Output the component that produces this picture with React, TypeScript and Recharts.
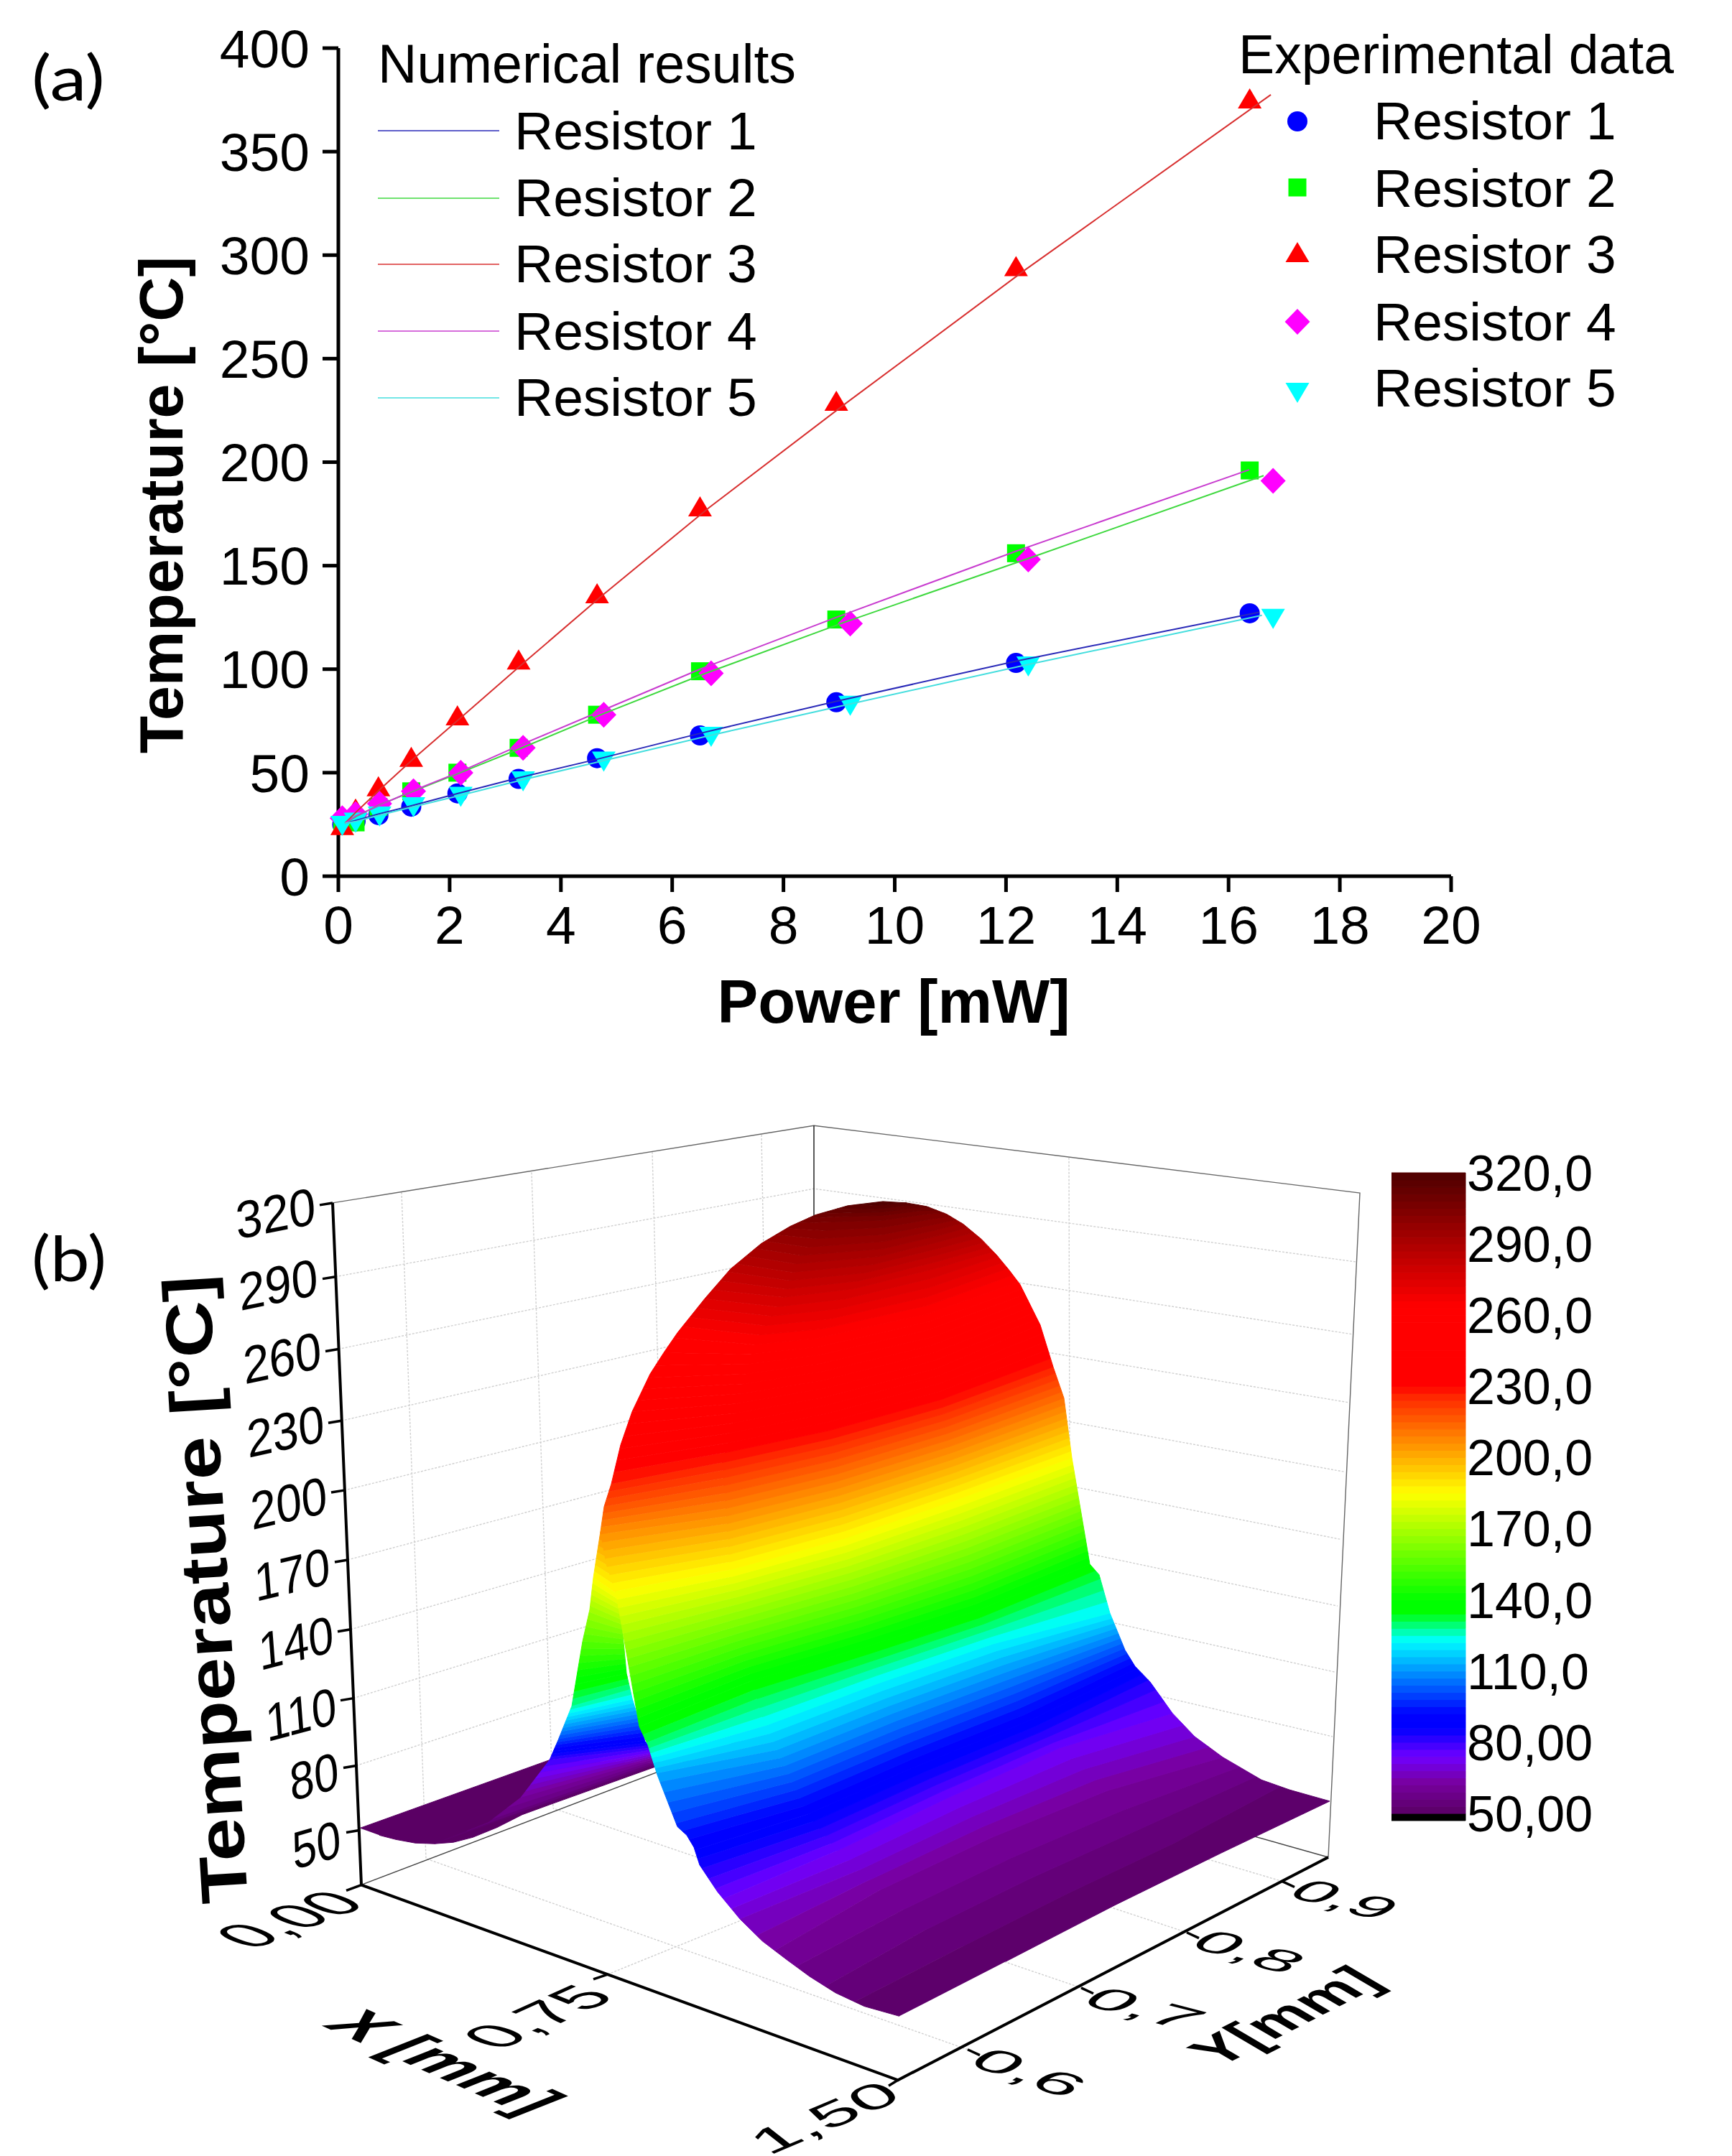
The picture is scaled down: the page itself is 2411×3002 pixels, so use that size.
import React from "react";
import { ScatterChart, Scatter, XAxis, YAxis, Label } from "recharts";

const sansFont = "'Liberation Sans', Arial, sans-serif";

// ---- panel (a): markers
const powerTicks = [0, 2, 4, 6, 8, 10, 12, 14, 16, 18, 20];
const tempTicks = [0, 50, 100, 150, 200, 250, 300, 350, 400];
const resistorNames = ["Resistor 1", "Resistor 2", "Resistor 3", "Resistor 4", "Resistor 5"];
const resistorColors = ["#0000ff", "#00ff00", "#ff0000", "#ff00ff", "#00ffff"];
const lineColors = ["#2a2ab8", "#3fd83f", "#d83030", "#c83ccf", "#45dede"];

const powerLow = [0.07, 0.31, 0.72, 1.31, 2.14, 3.24, 4.65, 6.5, 8.95, 12.18, 16.38];
const powerHigh = [0.07, 0.31, 0.74, 1.35, 2.2, 3.32, 4.77, 6.7, 9.2, 12.4, 16.8];
const expR1 = [25, 26.5, 29.5, 33.6, 40, 47, 57, 68, 84, 103, 127];
const expR2 = [25, 26, 33.5, 41, 50, 62, 78, 99, 124, 156, 196];
const expR3 = [24, 32, 42.8, 57, 77, 104, 136, 178, 229, 294, 375];
const expR4 = [28, 30, 35, 41, 50, 62, 78, 98, 122, 153, 191];
const expR5 = [25, 26.5, 29.5, 34, 39, 46.5, 56, 68, 83, 102, 125];

// ---- panel (a): numerical curves
const simPower1 = [0.12, 0.32, 0.72, 1.31, 2.15, 3.24, 4.65, 6.5, 8.95, 12.2, 16.55];
const simPower2 = [0.12, 0.33, 0.74, 1.34, 2.19, 3.3, 4.72, 6.6, 9.08, 12.35, 16.63];
const simPower3 = [0.12, 0.32, 0.75, 1.36, 2.22, 3.33, 4.76, 6.66, 9.15, 12.35, 16.76];
const simPower4 = [0.12, 0.31, 0.72, 1.31, 2.15, 3.24, 4.65, 6.5, 8.95, 12.18, 16.37];
const simPower5 = [0.12, 0.32, 0.74, 1.34, 2.19, 3.3, 4.72, 6.6, 9.08, 12.35, 16.6];
const simR1 = [25.6, 27, 30, 34, 40, 47.5, 56.5, 69, 84.5, 104, 127.5];
const simR2 = [25.6, 29, 34.5, 41, 50, 62, 78, 98, 122.5, 153, 193.5];
const simR3 = [25.6, 31, 42, 57, 77, 103, 136, 178, 229, 293, 377.5];
const simR4 = [25.6, 29, 34, 41, 50, 63, 79, 100, 125, 157, 196.3];
const simR5 = [25.6, 26.5, 29.5, 33.5, 39, 46.5, 55.5, 67.5, 82.5, 102, 126];

const zip = (xs: number[], ys: number[]) => xs.map((x, i) => ({ x, y: ys[i] }));

const expSeries = [
  zip(powerLow, expR1),
  zip(powerLow, expR2),
  zip(powerLow, expR3),
  zip(powerHigh, expR4),
  zip(powerHigh, expR5),
];
const simSeries = [
  zip(simPower1, simR1),
  zip(simPower2, simR2),
  zip(simPower3, simR3),
  zip(simPower4, simR4),
  zip(simPower5, simR5),
];

// ---- panel (b): projected frame, in the picture's own plane
const zLevels = [320, 290, 260, 230, 200, 170, 140, 110, 80, 50];
const wallLeft = [[463, 1677], [467, 1781], [471, 1883], [475, 1984], [479, 2082], [484, 2180], [488, 2278], [492, 2375], [496, 2470], [500, 2561]];
const wallBack = [[1133, 1568], [1133, 1657], [1133, 1745], [1133, 1833], [1133, 1920], [1133, 2005], [1133, 2090], [1133, 2175], [1133, 2258], [1133, 2340]];
const wallRight = [[1893, 1663], [1887, 1760], [1882, 1862], [1876, 1958], [1872, 2056], [1866, 2151], [1862, 2245], [1858, 2338], [1855, 2429], [1851, 2520]];
const cornerLeft = [503, 2638];
const cornerFront = [1250, 2913];
const cornerRight = [1849, 2599];
const cornerBack = [1133, 2395];

const wallUprights = [
  [[559, 1662], [593, 2601]],
  [[740, 1634], [770, 2530]],
  [[908, 1605], [930, 2463]],
  [[1060, 1581], [1075, 2420]],
  [[1488, 1613], [1490, 2500]],
];
const floorLines = [
  [[1347, 2870], [593, 2601]],
  [[1505, 2783], [770, 2530]],
  [[1652, 2705], [930, 2463]],
  [[1785, 2633], [1075, 2420]],
  [[846, 2764], [1490, 2500]],
];
const yAxisTicks = [[1347, 2870], [1505, 2783], [1652, 2705], [1785, 2633]];
const xAxisTicks = [[[503, 2638], [482, 2646]], [[846, 2764], [826, 2771]], [[1250, 2913], [1237, 2921]]];

// surface silhouettes: x, y, temperature at each point, coldest first
const mainLeft = [
  [1252, 2823, 50], [1203, 2809, 52], [1163, 2790, 55], [1127, 2767, 57.5], [1096, 2744, 60], [1061, 2717, 64],
  [1030, 2686, 68], [999, 2648, 76], [974, 2610, 84], [966, 2585, 90], [956, 2568, 93], [943, 2556, 97],
  [915, 2483, 112], [907, 2457, 123], [902, 2441, 130], [890, 2415, 137], [857, 2224, 185], [844, 2186, 195],
  [836, 2140, 207], [841, 2105, 218], [851, 2073, 227], [864, 2018, 237], [880, 1971, 245], [905, 1918, 255],
  [924, 1888, 260], [943, 1860, 264], [981, 1812, 275], [1017, 1770, 285], [1060, 1734, 295], [1100, 1710, 303],
  [1135, 1694, 310], [1180, 1681, 316], [1229, 1675, 320],
];
const mainRight = [
  [1851, 2520, 50], [1795, 2504, 52], [1756, 2490, 55], [1702, 2458, 62], [1663, 2429, 68], [1632, 2396, 74],
  [1601, 2352, 82], [1580, 2330, 90], [1566, 2307, 100], [1545, 2255, 122], [1530, 2201, 132], [1517, 2186, 137],
  [1492, 2036, 185], [1481, 1952, 212], [1466, 1908, 227], [1448, 1849, 242], [1420, 1792, 262], [1405, 1772, 268],
  [1387, 1750, 276], [1366, 1728, 286], [1341, 1707, 295], [1318, 1693, 304], [1290, 1682, 312], [1262, 1677, 317],
  [1229, 1675, 320],
];
// iso-temperature lines across the front flank
const contourLevels = [50, 55, 62, 74, 90, 123, 137, 185, 227, 264, 278, 292, 306, 320];
const contourPoints = [
  [1400, 2746, 1551, 2667, 1700, 2593],
  [1300, 2710, 1440, 2640, 1590, 2570],
  [1225, 2645, 1383, 2570, 1542, 2505],
  [1165, 2590, 1320, 2515, 1475, 2445],
  [1121, 2535, 1275, 2467, 1428, 2405],
  [1063, 2410, 1222, 2350, 1381, 2295],
  [1047, 2350, 1204, 2303, 1360, 2252],
  [1016, 2194, 1175, 2150, 1335, 2094],
  [1005, 2043, 1158, 2009, 1312, 1965],
  [1050, 1872, 1137, 1864, 1290, 1830],
  [1090, 1810, 1188, 1798, 1300, 1770],
  [1110, 1755, 1229, 1745, 1310, 1725],
  [1160, 1700, 1229, 1698, 1290, 1690],
  [1229, 1675, 1229, 1675, 1229, 1675],
];
// the far flank that shows behind the ridge, and the flat sheet in front of it
const patchLeft = [
  [605, 2580, 50], [680, 2550, 55], [725, 2515, 62], [765, 2462, 80], [777, 2434, 100], [796, 2386, 128],
  [811, 2295, 155], [821, 2250, 168], [826, 2205, 185], [836, 2140, 207],
];
const patchRight = [
  [920, 2468, 50], [910, 2450, 75], [898, 2436, 88], [880, 2375, 123], [872, 2340, 137], [862, 2230, 185], [845, 2140, 207],
];
const sheetOutline = [
  [501, 2558], [765, 2462], [920, 2468], [911, 2472], [765, 2525], [727, 2539], [692, 2557], [658, 2571], [631, 2578],
  [605, 2580], [578, 2579], [551, 2574], [528, 2568],
];

// colour map
const colorStopT = [50, 63, 74, 86, 92, 123, 135, 140, 185, 227, 230, 264, 320];
const colorStopR = [90, 120, 112, 0, 0, 0, 0, 0, 255, 255, 255, 255, 77];
const colorStopG = [0, 0, 0, 0, 0, 255, 255, 255, 255, 32, 0, 0, 0];
const colorStopB = [100, 160, 255, 255, 255, 255, 0, 0, 0, 0, 0, 0, 0];
const colorBarTicks = [50, 80, 110, 140, 170, 200, 230, 260, 290, 320];
const colorBarLabels = ["50,00", "80,00", "110,0", "140,0", "170,0", "200,0", "230,0", "260,0", "290,0", "320,0"];
const bandStep = 3;

const mix = (a: number, b: number, f: number) => a + (b - a) * f;

function colorAt(t: number) {
  let i = 0;
  while (i < colorStopT.length - 2 && t > colorStopT[i + 1]) i++;
  const f = Math.min(1, Math.max(0, (t - colorStopT[i]) / (colorStopT[i + 1] - colorStopT[i])));
  const r = Math.round(mix(colorStopR[i], colorStopR[i + 1], f));
  const g = Math.round(mix(colorStopG[i], colorStopG[i + 1], f));
  const b = Math.round(mix(colorStopB[i], colorStopB[i + 1], f));
  return `rgb(${r},${g},${b})`;
}

function edgeAt(edge: number[][], t: number) {
  let i = 0;
  while (i < edge.length - 2 && t > edge[i + 1][2]) i++;
  const f = Math.min(1, Math.max(0, (t - edge[i][2]) / (edge[i + 1][2] - edge[i][2])));
  return { x: mix(edge[i][0], edge[i + 1][0], f), y: mix(edge[i][1], edge[i + 1][1], f) };
}

function edgeSlice(edge: number[][], lo: number, hi: number) {
  const inner = edge.filter((p) => p[2] > lo && p[2] < hi).map((p) => ({ x: p[0], y: p[1] }));
  return [edgeAt(edge, lo), ...inner, edgeAt(edge, hi)];
}

function contourAt(t: number) {
  let i = 0;
  while (i < contourLevels.length - 2 && t > contourLevels[i + 1]) i++;
  const f = Math.min(1, Math.max(0, (t - contourLevels[i]) / (contourLevels[i + 1] - contourLevels[i])));
  const a = contourPoints[i];
  const b = contourPoints[i + 1];
  return [0, 2, 4].map((k) => ({ x: mix(a[k], b[k], f), y: mix(a[k + 1], b[k + 1], f) }));
}

type Pt = { x: number; y: number };

function bandsFor(left: number[][], right: number[][], tMax: number, across: (t: number) => Pt[]) {
  const out: { points: Pt[]; color: string }[] = [];
  for (let lo = 50; lo < tMax; lo += bandStep) {
    const hi = Math.min(lo + bandStep, tMax);
    out.push({
      points: [
        ...edgeSlice(left, lo, hi),
        ...across(hi),
        ...edgeSlice(right, lo, hi).reverse(),
        ...across(lo).reverse(),
      ],
      color: colorAt((lo + hi) / 2),
    });
  }
  return out;
}

const patchBands = bandsFor(patchLeft, patchRight, 207, () => []);
const mainBands = bandsFor(mainLeft, mainRight, 320, contourAt);

const toPts = (list: number[][]) => list.map((p) => ({ x: p[0], y: p[1] }));

// labels sit on the tilted planes of the box, so each one has its own matrix
type TiltedText = {
  text: string;
  x: number;
  y: number;
  m: number[];
  size?: number;
  bold?: boolean;
  end?: boolean;
  length?: number;
};

const zTickText = ["320", "290", "260", "230", "200", "170", "140", "110", "80", "50"];
const zTickX = [441, 444, 449, 453, 457, 461, 466, 470, 473, 476];
const zTickY = [1706, 1806, 1909, 2012, 2113, 2213, 2309, 2410, 2501, 2597];
const zTickA = [0.95, 0.94, 0.93, 0.92, 0.91, 0.9, 0.89, 0.88, 0.87, 0.86];
const zTickB = [-0.19, -0.195, -0.2, -0.205, -0.21, -0.22, -0.23, -0.235, -0.245, -0.25];

const tiltedLabels: TiltedText[] = [
  ...zTickText.map((text, i) => ({
    text,
    x: zTickX[i],
    y: zTickY[i],
    m: [zTickA[i], zTickB[i], 0.08, 1.04],
    end: true,
  })),
  { text: "0,00", x: 350, y: 2730, m: [1.2, -0.46, 1.2, 0.48] },
  { text: "0,75", x: 694, y: 2872, m: [1.22, -0.55, 1.2, 0.42] },
  { text: "1,50", x: 1070, y: 3020, m: [1.39, -0.59, 0.7, 0.55] },
  { text: "0,6", x: 1344, y: 2890, m: [1.44, 0.5, -0.75, 0.5] },
  { text: "0,7", x: 1501, y: 2805, m: [1.52, 0.39, -0.75, 0.5] },
  { text: "0,8", x: 1652, y: 2724, m: [1.41, 0.41, -0.75, 0.5] },
  { text: "0,9", x: 1788, y: 2653, m: [1.35, 0.36, -0.75, 0.5] },
  { text: "X [mm]", x: 447, y: 2836, m: [1.2, 0.53, -1.26, 0.5], bold: true },
  { text: "Y[mm]", x: 1696, y: 2896, m: [1.06, -0.54, 0.97, 0.57], bold: true },
  { text: "Temperature [°C]", x: 345, y: 2662, m: [-0.062, -0.998, 0.998, -0.062], size: 92, bold: true, length: 876 },
];

const noMarker = () => null;

function TiltedMark(props: any) {
  const d: TiltedText = props.payload;
  const [a, b, c, e] = d.m;
  return (
    <text
      transform={`matrix(${a} ${b} ${c} ${e} ${props.cx} ${props.cy})`}
      fontFamily={sansFont}
      fontSize={d.size ?? 70}
      fontWeight={d.bold ? 700 : 400}
      textAnchor={d.end ? "end" : "start"}
      textLength={d.length}
      lengthAdjust={d.length ? "spacingAndGlyphs" : undefined}
      fill="#000"
    >
      {d.text}
    </text>
  );
}

function drawMarker(kind: number, cx: number, cy: number, fill: string) {
  if (kind === 0) return <circle cx={cx} cy={cy} r={14} fill={fill} />;
  if (kind === 1) return <rect x={cx - 12.5} y={cy - 12.5} width={25} height={25} fill={fill} />;
  if (kind === 2)
    return <polygon points={`${cx},${cy - 16} ${cx + 16.5},${cy + 12} ${cx - 16.5},${cy + 12}`} fill={fill} />;
  if (kind === 3)
    return <polygon points={`${cx},${cy - 18} ${cx + 17.5},${cy} ${cx},${cy + 18} ${cx - 17.5},${cy}`} fill={fill} />;
  return <polygon points={`${cx},${cy + 16} ${cx + 16.5},${cy - 12} ${cx - 16.5},${cy - 12}`} fill={fill} />;
}

const legendLineRows = [182, 276, 368, 461, 554];
const legendLineBase = [208, 301, 393, 487, 579];
const legendDotRows = [169, 261, 353, 448, 545];
const legendDotBase = [194, 288, 380, 474, 566];

function Legends() {
  return (
    <svg
      width={2411}
      height={3002}
      style={{ position: "absolute", left: 0, top: 0, pointerEvents: "none" }}
      fontFamily={sansFont}
      fill="#000"
    >
      <text x={526} y={115} fontSize={76} textLength={582} lengthAdjust="spacingAndGlyphs">
        Numerical results
      </text>
      <text x={1724} y={102} fontSize={76} textLength={606} lengthAdjust="spacingAndGlyphs">
        Experimental data
      </text>
      {resistorNames.map((name, i) => (
        <g key={name}>
          <line x1={526} x2={695} y1={legendLineRows[i]} y2={legendLineRows[i]} stroke={lineColors[i]} strokeWidth={1.6} />
          <text x={716} y={legendLineBase[i]} fontSize={75}>
            {name}
          </text>
          {drawMarker(i, 1806, legendDotRows[i], resistorColors[i])}
          <text x={1912} y={legendDotBase[i]} fontSize={75}>
            {name}
          </text>
        </g>
      ))}
      <text x={44} y={140} fontSize={88} fontFamily="Lato, sans-serif" textLength={102} lengthAdjust="spacingAndGlyphs">
        (a)
      </text>
      <text x={44} y={1784} fontSize={88} fontFamily="Lato, sans-serif" textLength={104} lengthAdjust="spacingAndGlyphs">
        (b)
      </text>
    </svg>
  );
}

function PanelA() {
  return (
    <ScatterChart
      width={2411}
      height={1500}
      margin={{ top: 67, right: 391, bottom: 0, left: 0 }}
      style={{ position: "absolute", left: 0, top: 0 }}
    >
      <XAxis
        type="number"
        dataKey="x"
        domain={[0, 20]}
        ticks={powerTicks}
        interval={0}
        height={280}
        tickSize={22}
        tickMargin={19}
        stroke="#000"
        strokeWidth={5}
        tick={{ fill: "#000", fontSize: 75, fontFamily: sansFont, stroke: "none" }}
      >
        <Label
          content={() => (
            <text x={1244} y={1424} fontFamily={sansFont} fontSize={85} fontWeight={700} textAnchor="middle">
              Power [mW]
            </text>
          )}
        />
      </XAxis>
      <YAxis
        type="number"
        dataKey="y"
        domain={[0, 400]}
        ticks={tempTicks}
        interval={0}
        width={471}
        tickSize={22}
        tickMargin={18}
        stroke="#000"
        strokeWidth={5}
        tick={{ fill: "#000", fontSize: 75, fontFamily: sansFont, stroke: "none" }}
      >
        <Label
          content={() => (
            <text
              transform="translate(254,703) rotate(-90)"
              fontFamily={sansFont}
              fontSize={86}
              fontWeight={700}
              textAnchor="middle"
            >
              Temperature [°C]
            </text>
          )}
        />
      </YAxis>
      {expSeries.map((points, i) => (
        <Scatter
          key={`exp${i}`}
          name={resistorNames[i]}
          data={points}
          isAnimationActive={false}
          shape={(p: any) => drawMarker(i, p.cx, p.cy, resistorColors[i])}
        />
      ))}
      {simSeries.map((points, i) => (
        <Scatter
          key={`sim${i}`}
          name={resistorNames[i]}
          data={points}
          isAnimationActive={false}
          shape={noMarker}
          line={{ stroke: lineColors[i], strokeWidth: 2 }}
        />
      ))}
    </ScatterChart>
  );
}

function outline(points: Pt[], key: string, stroke: string, width: number, dash?: string) {
  return (
    <Scatter
      key={key}
      data={points}
      isAnimationActive={false}
      shape={noMarker}
      line={{ stroke, strokeWidth: width, strokeDasharray: dash, fill: "none" }}
    />
  );
}

function filled(points: Pt[], key: string, color: string) {
  return (
    <Scatter
      key={key}
      data={points}
      isAnimationActive={false}
      shape={noMarker}
      line={{ stroke: color, strokeWidth: 1, fill: color }}
    />
  );
}

const gridGray = "#d0d0d0";

function PanelB() {
  return (
    <ScatterChart
      width={2411}
      height={1502}
      margin={{ top: 0, right: 0, bottom: 0, left: 0 }}
      style={{ position: "absolute", left: 0, top: 1500 }}
    >
      <XAxis type="number" dataKey="x" domain={[0, 2411]} hide />
      <YAxis type="number" dataKey="y" domain={[1500, 3002]} reversed hide />

      {zLevels.slice(1).map((_, k) =>
        outline(toPts([wallLeft[k + 1], wallBack[k + 1], wallRight[k + 1]]), `wall${k}`, gridGray, 1.4, "3 2"),
      )}
      {wallUprights.map((seg, k) => outline(toPts(seg), `up${k}`, gridGray, 1.4, "3 2"))}
      {floorLines.map((seg, k) => outline(toPts(seg), `floor${k}`, gridGray, 1.4, "3 2"))}
      {outline(toPts([wallLeft[0], wallBack[0], wallRight[0], cornerRight]), "box1", "#666", 1.4)}
      {outline(toPts([wallBack[0], cornerBack]), "box2", "#222", 1.5)}
      {outline(toPts([cornerLeft, cornerBack, cornerRight]), "box3", "#444", 1.4)}

      {filled(toPts(sheetOutline), "sheet", colorAt(50))}
      {patchBands.map((b, k) => filled(b.points, `patch${k}`, b.color))}
      {mainBands.map((b, k) => filled(b.points, `main${k}`, b.color))}

      {outline(toPts([wallLeft[0], cornerLeft, cornerFront, cornerRight]), "axes", "#000", 4)}
      {wallLeft.map((p, k) => outline(toPts([p, [p[0] - 18, p[1] + 3]]), `zt${k}`, "#000", 3.5))}
      {xAxisTicks.map((seg, k) => outline(toPts(seg), `xt${k}`, "#000", 3.5))}
      {yAxisTicks.map((p, k) => outline(toPts([p, [p[0] + 17, p[1] + 8]]), `yt${k}`, "#000", 3.5))}

      <Scatter data={tiltedLabels} isAnimationActive={false} shape={TiltedMark} />
    </ScatterChart>
  );
}

function ColorBar() {
  const bands: { lo: number; hi: number }[] = [];
  for (let lo = 50; lo < 320; lo += bandStep) bands.push({ lo, hi: lo + bandStep });
  return (
    <ScatterChart
      width={343}
      height={982}
      margin={{ top: 40, right: 0, bottom: 40, left: 0 }}
      style={{ position: "absolute", left: 1937, top: 1593 }}
    >
      <XAxis type="number" dataKey="x" domain={[0, 1]} hide />
      <YAxis
        type="number"
        dataKey="y"
        orientation="right"
        domain={[47, 320]}
        ticks={colorBarTicks}
        interval={0}
        width={240}
        axisLine={false}
        tickLine={false}
        tickMargin={2}
        tickSize={0}
        tickFormatter={(v: number) => colorBarLabels[colorBarTicks.indexOf(v)]}
        tick={{ fill: "#000", fontSize: 70, fontFamily: sansFont }}
      />
      {filled(toPts([[0, 47], [1, 47], [1, 50], [0, 50]]), "under", "#000")}
      {bands.map((b) =>
        filled(toPts([[0, b.lo], [1, b.lo], [1, b.hi], [0, b.hi]]), `bar${b.lo}`, colorAt((b.lo + b.hi) / 2)),
      )}
    </ScatterChart>
  );
}

export default function App() {
  return (
    <div
      style={{
        position: "absolute",
        left: 0,
        top: 0,
        width: 2411,
        height: 3002,
        overflow: "hidden",
        background: "#fff",
      }}
    >
      <PanelB />
      <ColorBar />
      <PanelA />
      <Legends />
    </div>
  );
}
